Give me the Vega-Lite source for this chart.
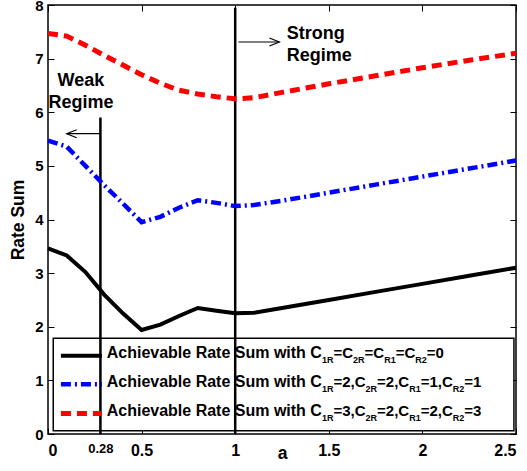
{
  "$schema": "https://vega.github.io/schema/vega-lite/v6.json",
  "width": 468,
  "height": 429,
  "autosize": "none",
  "padding": {"left": 48, "top": 5, "right": 11, "bottom": 37},
  "config": {
    "view": {"stroke": "black", "strokeWidth": 1.5},
    "font": "Liberation Sans",
    "axis": {
      "grid": false,
      "domain": false,
      "tickColor": "black",
      "tickWidth": 1,
      "tickSize": -6,
      "labelColor": "black",
      "labelFont": "Liberation Sans",
      "labelFontWeight": "bold",
      "labelFontSize": 15,
      "titleColor": "black",
      "titleFont": "Liberation Sans",
      "titleFontWeight": "bold",
      "titleFontSize": 17.5
    }
  },
  "datasets": {
    "curves": [
      {"a": 0, "v": 3.46, "s": "k"}, {"a": 0.1, "v": 3.33, "s": "k"}, {"a": 0.2, "v": 3.02, "s": "k"}, {"a": 0.3, "v": 2.6, "s": "k"}, {"a": 0.4, "v": 2.25, "s": "k"}, {"a": 0.5, "v": 1.94, "s": "k"}, {"a": 0.6, "v": 2.04, "s": "k"}, {"a": 0.7, "v": 2.2, "s": "k"}, {"a": 0.8, "v": 2.35, "s": "k"}, {"a": 0.9, "v": 2.3, "s": "k"}, {"a": 1.0, "v": 2.25, "s": "k"}, {"a": 1.1, "v": 2.26, "s": "k"}, {"a": 1.25, "v": 2.35, "s": "k"}, {"a": 1.5, "v": 2.5, "s": "k"}, {"a": 1.75, "v": 2.65, "s": "k"}, {"a": 2.0, "v": 2.8, "s": "k"}, {"a": 2.25, "v": 2.95, "s": "k"}, {"a": 2.5, "v": 3.1, "s": "k"},
      {"a": 0, "v": 5.47, "s": "b"}, {"a": 0.1, "v": 5.36, "s": "b"}, {"a": 0.2, "v": 5.0, "s": "b"}, {"a": 0.3, "v": 4.64, "s": "b"}, {"a": 0.4, "v": 4.3, "s": "b"}, {"a": 0.5, "v": 3.95, "s": "b"}, {"a": 0.6, "v": 4.05, "s": "b"}, {"a": 0.7, "v": 4.22, "s": "b"}, {"a": 0.8, "v": 4.36, "s": "b"}, {"a": 0.9, "v": 4.31, "s": "b"}, {"a": 1.0, "v": 4.25, "s": "b"}, {"a": 1.1, "v": 4.27, "s": "b"}, {"a": 1.25, "v": 4.35, "s": "b"}, {"a": 1.5, "v": 4.5, "s": "b"}, {"a": 1.75, "v": 4.65, "s": "b"}, {"a": 2.0, "v": 4.8, "s": "b"}, {"a": 2.25, "v": 4.95, "s": "b"}, {"a": 2.5, "v": 5.1, "s": "b"},
      {"a": 0, "v": 7.47, "s": "r"}, {"a": 0.1, "v": 7.42, "s": "r"}, {"a": 0.2, "v": 7.25, "s": "r"}, {"a": 0.3, "v": 7.06, "s": "r"}, {"a": 0.4, "v": 6.88, "s": "r"}, {"a": 0.5, "v": 6.7, "s": "r"}, {"a": 0.6, "v": 6.54, "s": "r"}, {"a": 0.7, "v": 6.41, "s": "r"}, {"a": 0.8, "v": 6.34, "s": "r"}, {"a": 0.9, "v": 6.29, "s": "r"}, {"a": 1.0, "v": 6.25, "s": "r"}, {"a": 1.1, "v": 6.27, "s": "r"}, {"a": 1.25, "v": 6.37, "s": "r"}, {"a": 1.5, "v": 6.53, "s": "r"}, {"a": 1.75, "v": 6.68, "s": "r"}, {"a": 2.0, "v": 6.83, "s": "r"}, {"a": 2.25, "v": 6.97, "s": "r"}, {"a": 2.5, "v": 7.1, "s": "r"}
    ],
    "vlines": [{"a": 0.28, "y1": 0, "y2": 5.9}, {"a": 1.0, "y1": 0, "y2": 7.95}],
    "box": [{"x1": 0.028, "x2": 2.489, "y1": 0.062, "y2": 1.785}],
    "samples": [
      {"x1": 0.069, "x2": 0.288, "y": 1.46, "s": "k"},
      {"x1": 0.069, "x2": 0.288, "y": 0.93, "s": "b"},
      {"x1": 0.069, "x2": 0.288, "y": 0.38, "s": "r"}
    ],
    "legendHead": [
      {"x": 0.3136, "y": 1.412, "t": "Achievable Rate Sum with C"},
      {"x": 0.3136, "y": 0.883, "t": "Achievable Rate Sum with C"},
      {"x": 0.3136, "y": 0.336, "t": "Achievable Rate Sum with C"}
    ],
    "legendEq": [
      {"x": 1.5251, "y": 1.412, "t": "=C"},
      {"x": 1.6912, "y": 1.412, "t": "=C"},
      {"x": 1.8574, "y": 1.412, "t": "=C"},
      {"x": 2.0235, "y": 1.412, "t": "=0"},
      {"x": 1.5251, "y": 0.883, "t": "=2,C"},
      {"x": 1.7580, "y": 0.883, "t": "=2,C"},
      {"x": 1.9909, "y": 0.883, "t": "=1,C"},
      {"x": 2.2239, "y": 0.883, "t": "=1"},
      {"x": 1.5251, "y": 0.336, "t": "=3,C"},
      {"x": 1.7580, "y": 0.336, "t": "=2,C"},
      {"x": 1.9909, "y": 0.336, "t": "=2,C"},
      {"x": 2.2239, "y": 0.336, "t": "=3"}
    ],
    "subText": [
      {"x": 1.4631, "y": 1.412, "t": "1R"},
      {"x": 1.6298, "y": 1.412, "t": "2R"},
      {"x": 1.7959, "y": 1.412, "t": "R1"},
      {"x": 1.9621, "y": 1.412, "t": "R2"},
      {"x": 1.4631, "y": 0.883, "t": "1R"},
      {"x": 1.6966, "y": 0.883, "t": "2R"},
      {"x": 1.9295, "y": 0.883, "t": "R1"},
      {"x": 2.1624, "y": 0.883, "t": "R2"},
      {"x": 1.4631, "y": 0.336, "t": "1R"},
      {"x": 1.6966, "y": 0.336, "t": "2R"},
      {"x": 1.9295, "y": 0.336, "t": "R1"},
      {"x": 2.1624, "y": 0.336, "t": "R2"}
    ],
    "weakNote": [{"x": 0.176, "y": 6.49, "t": "Weak\nRegime"}],
    "strongNote": [{"x": 1.275, "y": 7.37, "t": "Strong\nRegime"}],
    "arrows": [
      {"x1": 0.10, "x2": 0.278, "y": 5.6, "dir": "left", "hx": 0.10},
      {"x1": 1.017, "x2": 1.236, "y": 7.31, "dir": "right", "hx": 1.236}
    ]
  },
  "resolve": {"axis": {"x": "independent", "y": "independent"}},
  "layer": [
    {
      "data": {"name": "box"},
      "mark": {"type": "rect", "fill": "white", "stroke": "black", "strokeWidth": 1.5},
      "encoding": {
        "x": {"field": "x1", "type": "quantitative", "scale": {"domain": [0, 2.5], "nice": false, "zero": false},
          "axis": {"orient": "bottom", "values": [0, 0.28, 0.5, 1, 1.5, 2, 2.5], "format": "~g",
            "labelFontSize": {"condition": {"test": "datum.value == 0.28", "value": 13}, "value": 16},
            "labelPadding": 14, "title": "a", "titlePadding": -14}},
        "x2": {"field": "x2"},
        "y": {"field": "y1", "type": "quantitative", "scale": {"domain": [0, 8], "nice": false, "zero": false},
          "axis": {"orient": "left", "values": [0, 1, 2, 3, 4, 5, 6, 7, 8], "labelPadding": 11, "title": "Rate Sum", "titlePadding": 7}},
        "y2": {"field": "y2"}
      }
    },
    {
      "data": {"name": "vlines"},
      "mark": {"type": "rule", "color": "black", "strokeWidth": 2.5},
      "encoding": {
        "x": {"field": "a", "type": "quantitative",
          "axis": {"orient": "top", "values": [0, 0.5, 1, 1.5, 2, 2.5], "labels": false, "title": null}},
        "y": {"field": "y1", "type": "quantitative",
          "axis": {"orient": "right", "values": [0, 1, 2, 3, 4, 5, 6, 7, 8], "labels": false, "title": null}},
        "y2": {"field": "y2"}
      }
    },
    {
      "data": {"name": "curves"},
      "transform": [{"filter": "datum.s == 'k'"}],
      "mark": {"type": "line", "color": "black", "strokeWidth": 4},
      "encoding": {
        "x": {"field": "a", "type": "quantitative", "axis": null},
        "y": {"field": "v", "type": "quantitative", "axis": null}
      }
    },
    {
      "data": {"name": "curves"},
      "transform": [{"filter": "datum.s == 'b'"}],
      "mark": {"type": "line", "color": "#0000ff", "strokeWidth": 4.5, "strokeDash": [10, 4, 2, 4]},
      "encoding": {
        "x": {"field": "a", "type": "quantitative", "axis": null},
        "y": {"field": "v", "type": "quantitative", "axis": null}
      }
    },
    {
      "data": {"name": "curves"},
      "transform": [{"filter": "datum.s == 'r'"}],
      "mark": {"type": "line", "color": "#ff0000", "strokeWidth": 5, "strokeDash": [10, 6]},
      "encoding": {
        "x": {"field": "a", "type": "quantitative", "axis": null},
        "y": {"field": "v", "type": "quantitative", "axis": null}
      }
    },
    {
      "data": {"name": "samples"},
      "transform": [{"filter": "datum.s == 'k'"}],
      "mark": {"type": "rule", "color": "black", "strokeWidth": 4},
      "encoding": {
        "x": {"field": "x1", "type": "quantitative", "axis": null},
        "x2": {"field": "x2"},
        "y": {"field": "y", "type": "quantitative", "axis": null}
      }
    },
    {
      "data": {"name": "samples"},
      "transform": [{"filter": "datum.s == 'b'"}],
      "mark": {"type": "rule", "color": "#0000ff", "strokeWidth": 4.5, "strokeDash": [10, 4, 2, 4]},
      "encoding": {
        "x": {"field": "x1", "type": "quantitative", "axis": null},
        "x2": {"field": "x2"},
        "y": {"field": "y", "type": "quantitative", "axis": null}
      }
    },
    {
      "data": {"name": "samples"},
      "transform": [{"filter": "datum.s == 'r'"}],
      "mark": {"type": "rule", "color": "#ff0000", "strokeWidth": 5, "strokeDash": [10, 6]},
      "encoding": {
        "x": {"field": "x1", "type": "quantitative", "axis": null},
        "x2": {"field": "x2"},
        "y": {"field": "y", "type": "quantitative", "axis": null}
      }
    },
    {
      "data": {"name": "legendHead"},
      "mark": {"type": "text", "align": "left", "baseline": "alphabetic", "font": "Liberation Sans", "fontWeight": "bold", "fontSize": 16, "color": "black"},
      "encoding": {
        "x": {"field": "x", "type": "quantitative", "axis": null},
        "y": {"field": "y", "type": "quantitative", "axis": null},
        "text": {"field": "t"}
      }
    },
    {
      "data": {"name": "legendEq"},
      "mark": {"type": "text", "align": "left", "baseline": "alphabetic", "font": "Liberation Sans", "fontWeight": "bold", "fontSize": 15, "color": "black"},
      "encoding": {
        "x": {"field": "x", "type": "quantitative", "axis": null},
        "y": {"field": "y", "type": "quantitative", "axis": null},
        "text": {"field": "t"}
      }
    },
    {
      "data": {"name": "subText"},
      "mark": {"type": "text", "align": "left", "baseline": "alphabetic", "dy": 5, "font": "Liberation Sans", "fontWeight": "bold", "fontSize": 9, "color": "black"},
      "encoding": {
        "x": {"field": "x", "type": "quantitative", "axis": null},
        "y": {"field": "y", "type": "quantitative", "axis": null},
        "text": {"field": "t"}
      }
    },
    {
      "data": {"name": "weakNote"},
      "mark": {"type": "text", "align": "center", "baseline": "alphabetic", "lineBreak": "\n", "lineHeight": 22, "font": "Liberation Sans", "fontWeight": "bold", "fontSize": 18, "color": "black"},
      "encoding": {
        "x": {"field": "x", "type": "quantitative", "axis": null},
        "y": {"field": "y", "type": "quantitative", "axis": null},
        "text": {"field": "t"}
      }
    },
    {
      "data": {"name": "strongNote"},
      "mark": {"type": "text", "align": "left", "baseline": "alphabetic", "lineBreak": "\n", "lineHeight": 22, "font": "Liberation Sans", "fontWeight": "bold", "fontSize": 18, "color": "black"},
      "encoding": {
        "x": {"field": "x", "type": "quantitative", "axis": null},
        "y": {"field": "y", "type": "quantitative", "axis": null},
        "text": {"field": "t"}
      }
    },
    {
      "data": {"name": "arrows"},
      "mark": {"type": "rule", "color": "black", "strokeWidth": 1.2},
      "encoding": {
        "x": {"field": "x1", "type": "quantitative", "axis": null},
        "x2": {"field": "x2"},
        "y": {"field": "y", "type": "quantitative", "axis": null}
      }
    },
    {
      "data": {"name": "arrows"},
      "mark": {"type": "point", "filled": false, "stroke": "black", "strokeWidth": 1.2, "size": 100, "opacity": 1},
      "encoding": {
        "x": {"field": "hx", "type": "quantitative", "axis": null},
        "y": {"field": "y", "type": "quantitative", "axis": null},
        "shape": {"field": "dir", "type": "nominal", "legend": null,
          "scale": {"domain": ["left", "right"], "range": ["M 2 -0.8 L 0 0 L 2 0.8", "M -2 -0.8 L 0 0 L -2 0.8"]}}
      }
    }
  ]
}
